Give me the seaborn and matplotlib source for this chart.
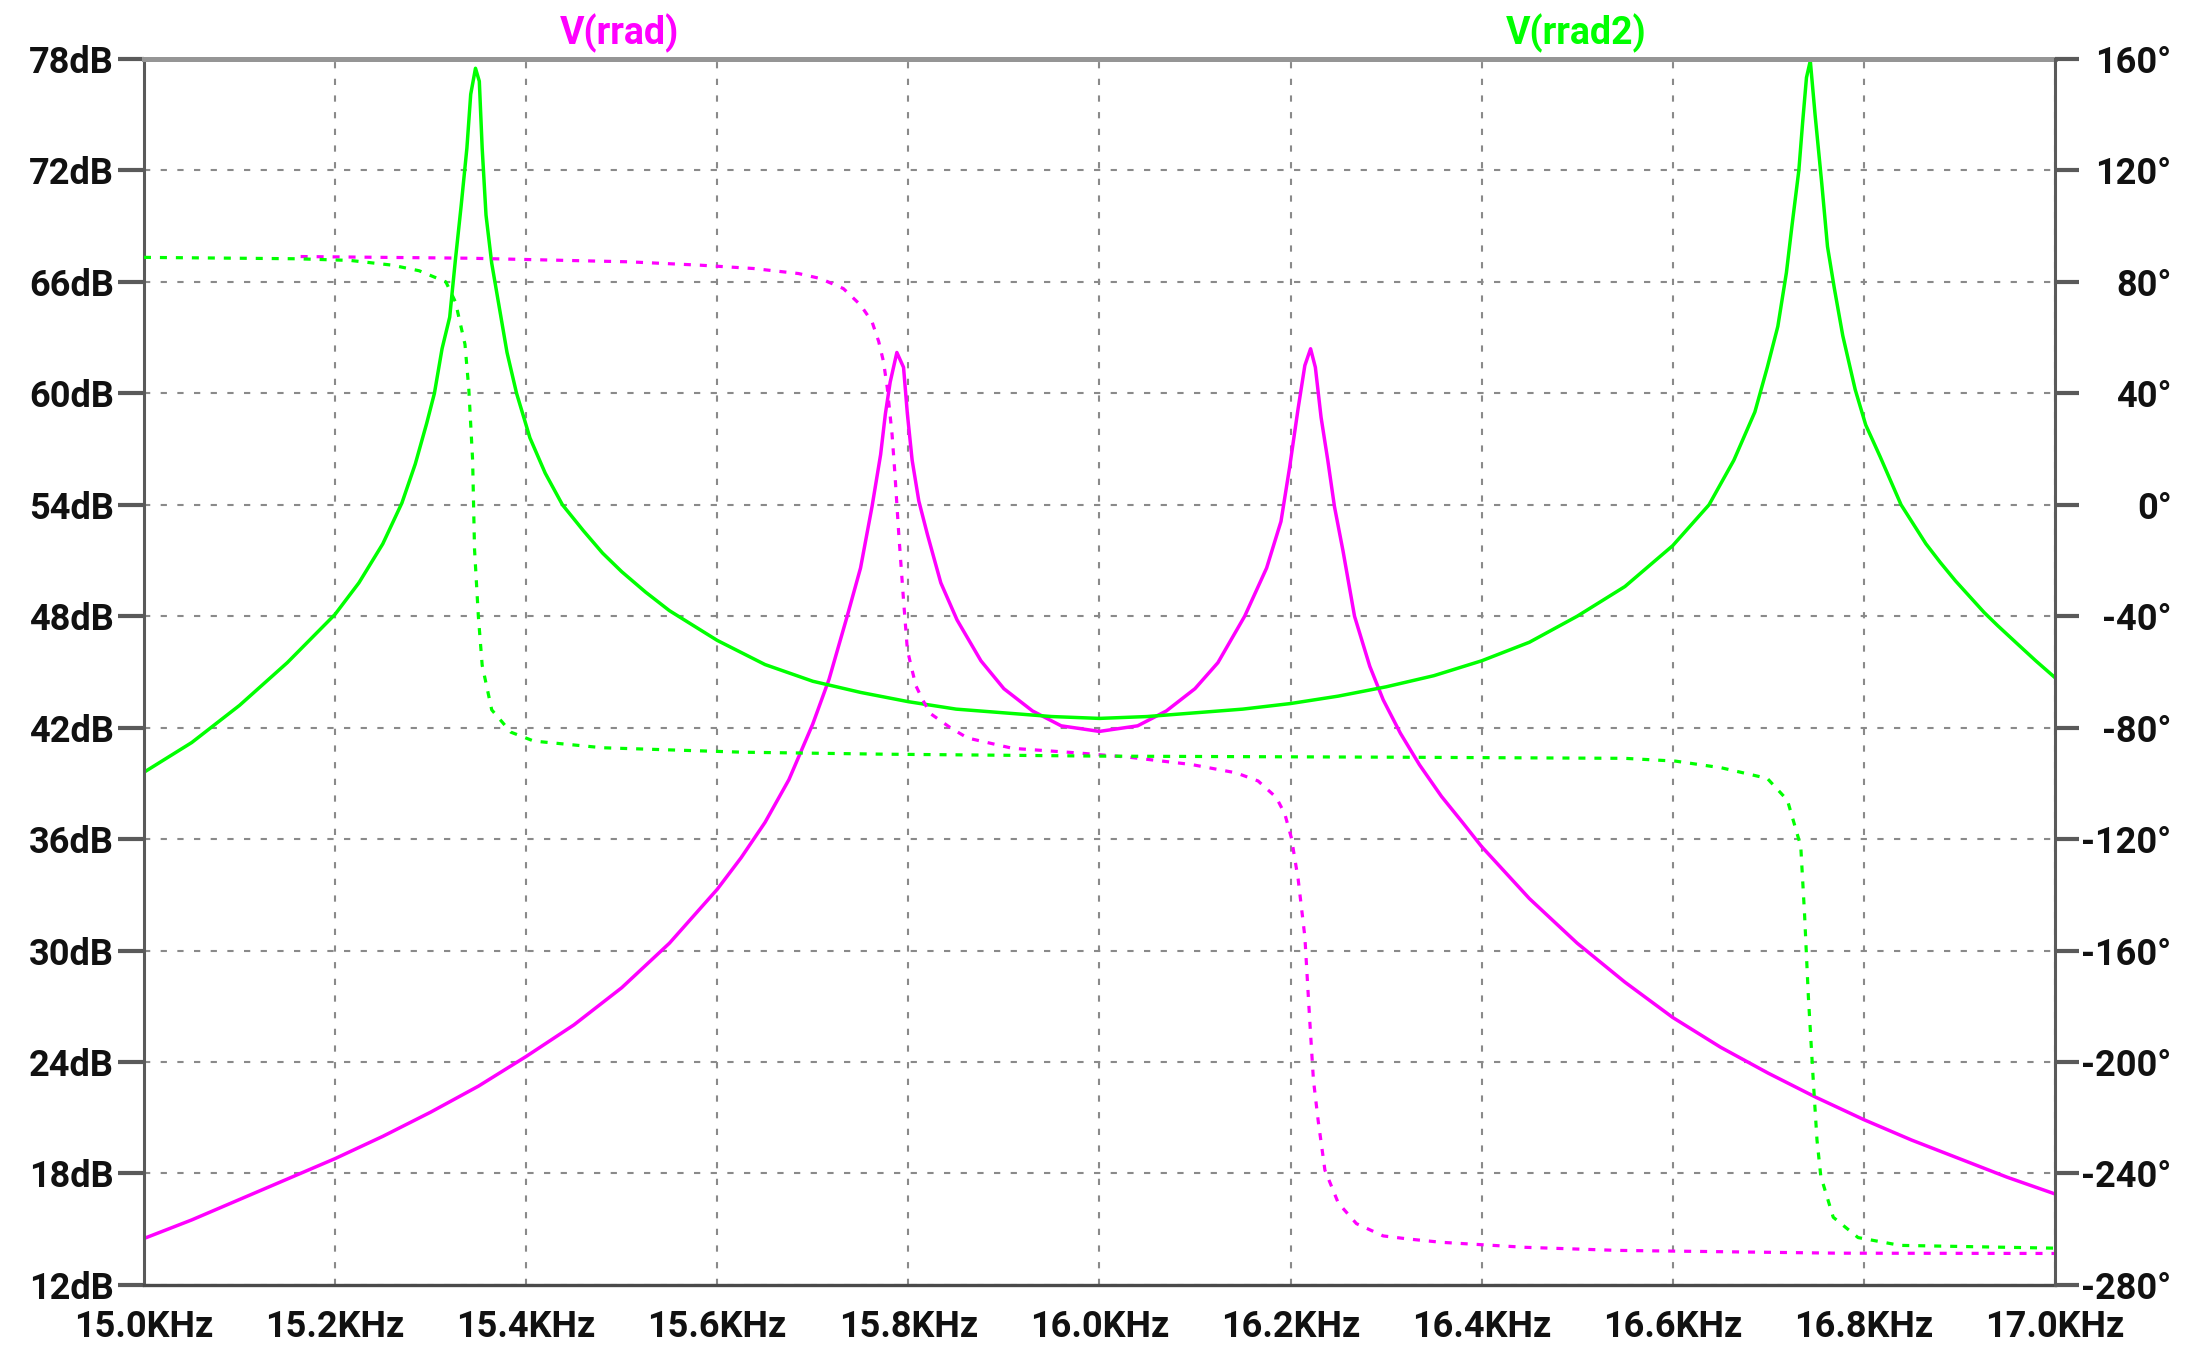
import matplotlib
matplotlib.use("Agg")
import matplotlib.pyplot as plt
import seaborn as sns
from matplotlib.ticker import FixedLocator, FixedFormatter

# ---------------- data ----------------
# V(rrad) magnitude [dB]
f_rrad_mag = [15.000, 15.050, 15.100, 15.150, 15.200, 15.250, 15.300, 15.350, 15.400,
              15.450, 15.500, 15.550, 15.600, 15.625, 15.650, 15.675, 15.700, 15.717,
              15.736, 15.750, 15.762, 15.771, 15.776, 15.781, 15.788, 15.795, 15.799,
              15.804, 15.811, 15.820, 15.834, 15.851, 15.876, 15.900, 15.930, 15.960,
              16.000, 16.040, 16.070, 16.100, 16.124, 16.152, 16.175, 16.190, 16.199,
              16.208, 16.215, 16.221, 16.226, 16.232, 16.239, 16.246, 16.255, 16.267,
              16.283, 16.297, 16.315, 16.335, 16.358, 16.380, 16.400, 16.450, 16.500,
              16.550, 16.600, 16.650, 16.700, 16.750, 16.800, 16.850, 16.900, 16.950,
              17.000]
rrad_mag = [14.5, 15.5, 16.6, 17.7, 18.8, 20.0, 21.3, 22.7, 24.3,
            26.0, 28.0, 30.4, 33.3, 35.0, 36.9, 39.2, 42.2, 44.6,
            48.0, 50.6, 53.9, 56.7, 58.9, 60.6, 62.2, 61.4, 58.9,
            56.4, 54.2, 52.4, 49.8, 47.8, 45.6, 44.1, 42.9, 42.1,
            41.8, 42.1, 42.9, 44.1, 45.5, 48.0, 50.6, 53.1, 56.0,
            59.2, 61.5, 62.4, 61.4, 58.7, 56.4, 53.9, 51.5, 48.0,
            45.3, 43.5, 41.7, 40.0, 38.3, 36.9, 35.6, 32.8, 30.4,
            28.3, 26.4, 24.8, 23.4, 22.1, 20.9, 19.8, 18.8, 17.8,
            16.9]

# V(rrad) phase [deg]
f_rrad_ph = [15.164, 15.340, 15.508, 15.582, 15.638, 15.685, 15.708, 15.732, 15.750,
             15.762, 15.769, 15.774, 15.778, 15.783, 15.786, 15.790, 15.795, 15.799,
             15.803, 15.808, 15.815, 15.823, 15.844, 15.862, 15.909, 15.979, 16.031,
             16.096, 16.143, 16.166, 16.185, 16.194, 16.201, 16.208, 16.215, 16.220,
             16.224, 16.229, 16.236, 16.250, 16.269, 16.297, 16.323, 16.358, 16.446,
             16.542, 16.773, 17.000]
rrad_ph = [89.1, 88.5, 87.2, 86.0, 84.8, 83.0, 81.2, 77.6, 71.7,
           65.7, 58.6, 51.4, 41.9, 25.2, 11.0, -10.5, -34.3, -52.0,
           -58.0, -65.0, -70.0, -74.9, -80.0, -83.7, -87.4, -89.1, -90.6,
           -93.2, -96.2, -99.1, -105.0, -110.9, -119.7, -134.4, -155.0, -184.4,
           -206.5, -221.2, -238.8, -250.6, -258.0, -262.4, -263.5, -264.7, -266.5,
           -267.6, -268.6, -268.7]

# V(rrad2) magnitude [dB]
f_rrad2_mag = [15.000, 15.050, 15.100, 15.150, 15.200, 15.225, 15.250, 15.270, 15.284,
               15.296, 15.304, 15.312, 15.320, 15.326, 15.332, 15.338, 15.342, 15.347,
               15.351, 15.354, 15.358, 15.364, 15.372, 15.380, 15.390, 15.404, 15.420,
               15.438, 15.460, 15.480, 15.500, 15.525, 15.550, 15.575, 15.600, 15.650,
               15.700, 15.750, 15.800, 15.850, 15.900, 15.950, 16.000, 16.050, 16.100,
               16.150, 16.200, 16.250, 16.300, 16.350, 16.400, 16.450, 16.500, 16.550,
               16.600, 16.638, 16.664, 16.686, 16.699, 16.710, 16.719, 16.725, 16.732,
               16.736, 16.740, 16.744, 16.749, 16.756, 16.762, 16.769, 16.778, 16.791,
               16.802, 16.817, 16.839, 16.865, 16.880, 16.896, 16.926, 16.940, 16.961,
               16.980, 17.000]
rrad2_mag = [39.6, 41.2, 43.2, 45.5, 48.1, 49.8, 51.9, 54.1, 56.2,
             58.4, 60.0, 62.4, 64.1, 67.2, 70.1, 73.2, 76.1, 77.5,
             76.8, 73.2, 69.6, 67.0, 64.6, 62.2, 60.0, 57.6, 55.7,
             54.0, 52.6, 51.4, 50.4, 49.3, 48.3, 47.5, 46.7, 45.4,
             44.5, 43.9, 43.4, 43.0, 42.8, 42.6, 42.5, 42.6, 42.8,
             43.0, 43.3, 43.7, 44.2, 44.8, 45.6, 46.6, 48.0, 49.6,
             51.8, 54.0, 56.4, 59.0, 61.4, 63.6, 66.5, 69.1, 72.0,
             74.6, 77.0, 77.9, 75.0, 71.3, 67.9, 65.7, 63.1, 60.2,
             58.3, 56.6, 54.0, 51.9, 50.9, 49.9, 48.2, 47.5, 46.5,
             45.6, 44.7]

# V(rrad2) phase [deg]
f_rrad2_ph = [15.000, 15.160, 15.216, 15.260, 15.288, 15.316, 15.326, 15.336, 15.340,
              15.344, 15.346, 15.350, 15.354, 15.364, 15.384, 15.408, 15.480, 15.627,
              15.773, 16.000, 16.315, 16.550, 16.603, 16.651, 16.699, 16.720, 16.734,
              16.738, 16.742, 16.747, 16.751, 16.755, 16.768, 16.794, 16.838, 17.000]
rrad2_ph = [88.8, 88.3, 87.7, 86.0, 84.0, 80.0, 72.8, 57.6, 41.6,
            16.0, -16.0, -40.0, -57.6, -73.6, -81.6, -84.8, -87.2, -88.8,
            -89.5, -90.2, -90.6, -91.0, -92.0, -94.4, -98.2, -106.0, -122.5,
            -147.0, -176.7, -206.0, -228.0, -241.0, -255.7, -263.0, -265.8, -266.8]

# axis ticks / labels
x_ticks = [15.0, 15.2, 15.4, 15.6, 15.8, 16.0, 16.2, 16.4, 16.6, 16.8, 17.0]
x_labels = ["15.0KHz", "15.2KHz", "15.4KHz", "15.6KHz", "15.8KHz", "16.0KHz",
            "16.2KHz", "16.4KHz", "16.6KHz", "16.8KHz", "17.0KHz"]
db_ticks = [12, 18, 24, 30, 36, 42, 48, 54, 60, 66, 72, 78]
db_labels = ["12dB", "18dB", "24dB", "30dB", "36dB", "42dB", "48dB", "54dB",
             "60dB", "66dB", "72dB", "78dB"]
deg_ticks = [-280, -240, -200, -160, -120, -80, -40, 0, 40, 80, 120, 160]
deg_labels = ["-280°", "-240°", "-200°", "-160°", "-120°", "-80°", "-40°", "0°",
              "40°", "80°", "120°", "160°"]
trace_names = ["V(rrad)", "V(rrad2)"]

# ---------------- style ----------------
MAG = "#ff00ff"
GRN = "#00ff00"
sns.set_style("white")
plt.rcParams['font.family'] = ['Roboto', 'DejaVu Sans']

fig = plt.figure(figsize=(22.11, 13.53), dpi=100)
ax = fig.add_axes([0.0651, 0.0503, 0.8643, 0.9061])
ax2 = ax.twinx()

# magnitudes (solid)
sns.lineplot(x=f_rrad_mag, y=rrad_mag, ax=ax, color=MAG, linewidth=2.5,
             estimator=None, sort=False, legend=False)
sns.lineplot(x=f_rrad2_mag, y=rrad2_mag, ax=ax, color=GRN, linewidth=2.5,
             estimator=None, sort=False, legend=False)
# phases (dotted)
sns.lineplot(x=f_rrad_ph, y=rrad_ph, ax=ax2, color=MAG, linewidth=2.3,
             estimator=None, sort=False, legend=False, linestyle=(0, (2.2, 2.8)))
sns.lineplot(x=f_rrad2_ph, y=rrad2_ph, ax=ax2, color=GRN, linewidth=2.3,
             estimator=None, sort=False, legend=False, linestyle=(0, (2.2, 2.8)))

ax.set_xlim(15.0, 17.0)
ax.set_ylim(12, 78)
ax2.set_ylim(-280, 160)
ax.set_xlabel("")
ax.set_ylabel("")
ax2.set_ylabel("")

ax.xaxis.set_major_locator(FixedLocator(x_ticks))
ax.xaxis.set_major_formatter(FixedFormatter(x_labels))
ax.yaxis.set_major_locator(FixedLocator(db_ticks))
ax.yaxis.set_major_formatter(FixedFormatter(db_labels))
ax2.yaxis.set_major_locator(FixedLocator(deg_ticks))
ax2.yaxis.set_major_formatter(FixedFormatter(deg_labels))

ax.set_axisbelow(True)
ax.grid(True, color="#8a8a8a", linestyle=(0, (3, 5)), linewidth=1.5)

tick_font = 26
ax.tick_params(axis="y", direction="out", length=18.7, width=3, color="#5a5a5a",
               pad=3, labelsize=tick_font, labelcolor="#111111")
ax.tick_params(axis="x", direction="out", length=16, width=3, color="#5a5a5a",
               pad=1.5, labelsize=tick_font, labelcolor="#111111")
ax2.tick_params(axis="y", direction="out", length=17, width=3, color="#5a5a5a",
                pad=67, labelsize=tick_font, labelcolor="#111111")
for t in ax2.get_yticklabels():
    t.set_horizontalalignment("right")
for t in ax.get_xticklabels() + ax.get_yticklabels() + ax2.get_yticklabels():
    t.set_fontweight("bold")

for s in ["left", "top", "bottom"]:
    ax2.spines[s].set_visible(False)
ax.spines["right"].set_visible(False)
ax.spines["top"].set_color("#959595")
ax.spines["top"].set_linewidth(3.6)
ax.spines["left"].set_color("#5a5a5a")
ax.spines["left"].set_linewidth(2.2)
ax.spines["bottom"].set_color("#4a4a4a")
ax.spines["bottom"].set_linewidth(2.4)
ax2.spines["right"].set_color("#5a5a5a")
ax2.spines["right"].set_linewidth(2.2)

fig.text(0.2804, 0.9756, trace_names[0], color=MAG, fontsize=27,
         fontweight="bold", ha="center", va="center")
fig.text(0.7128, 0.9756, trace_names[1], color=GRN, fontsize=27,
         fontweight="bold", ha="center", va="center")

fig.savefig("out.png", dpi=100)
